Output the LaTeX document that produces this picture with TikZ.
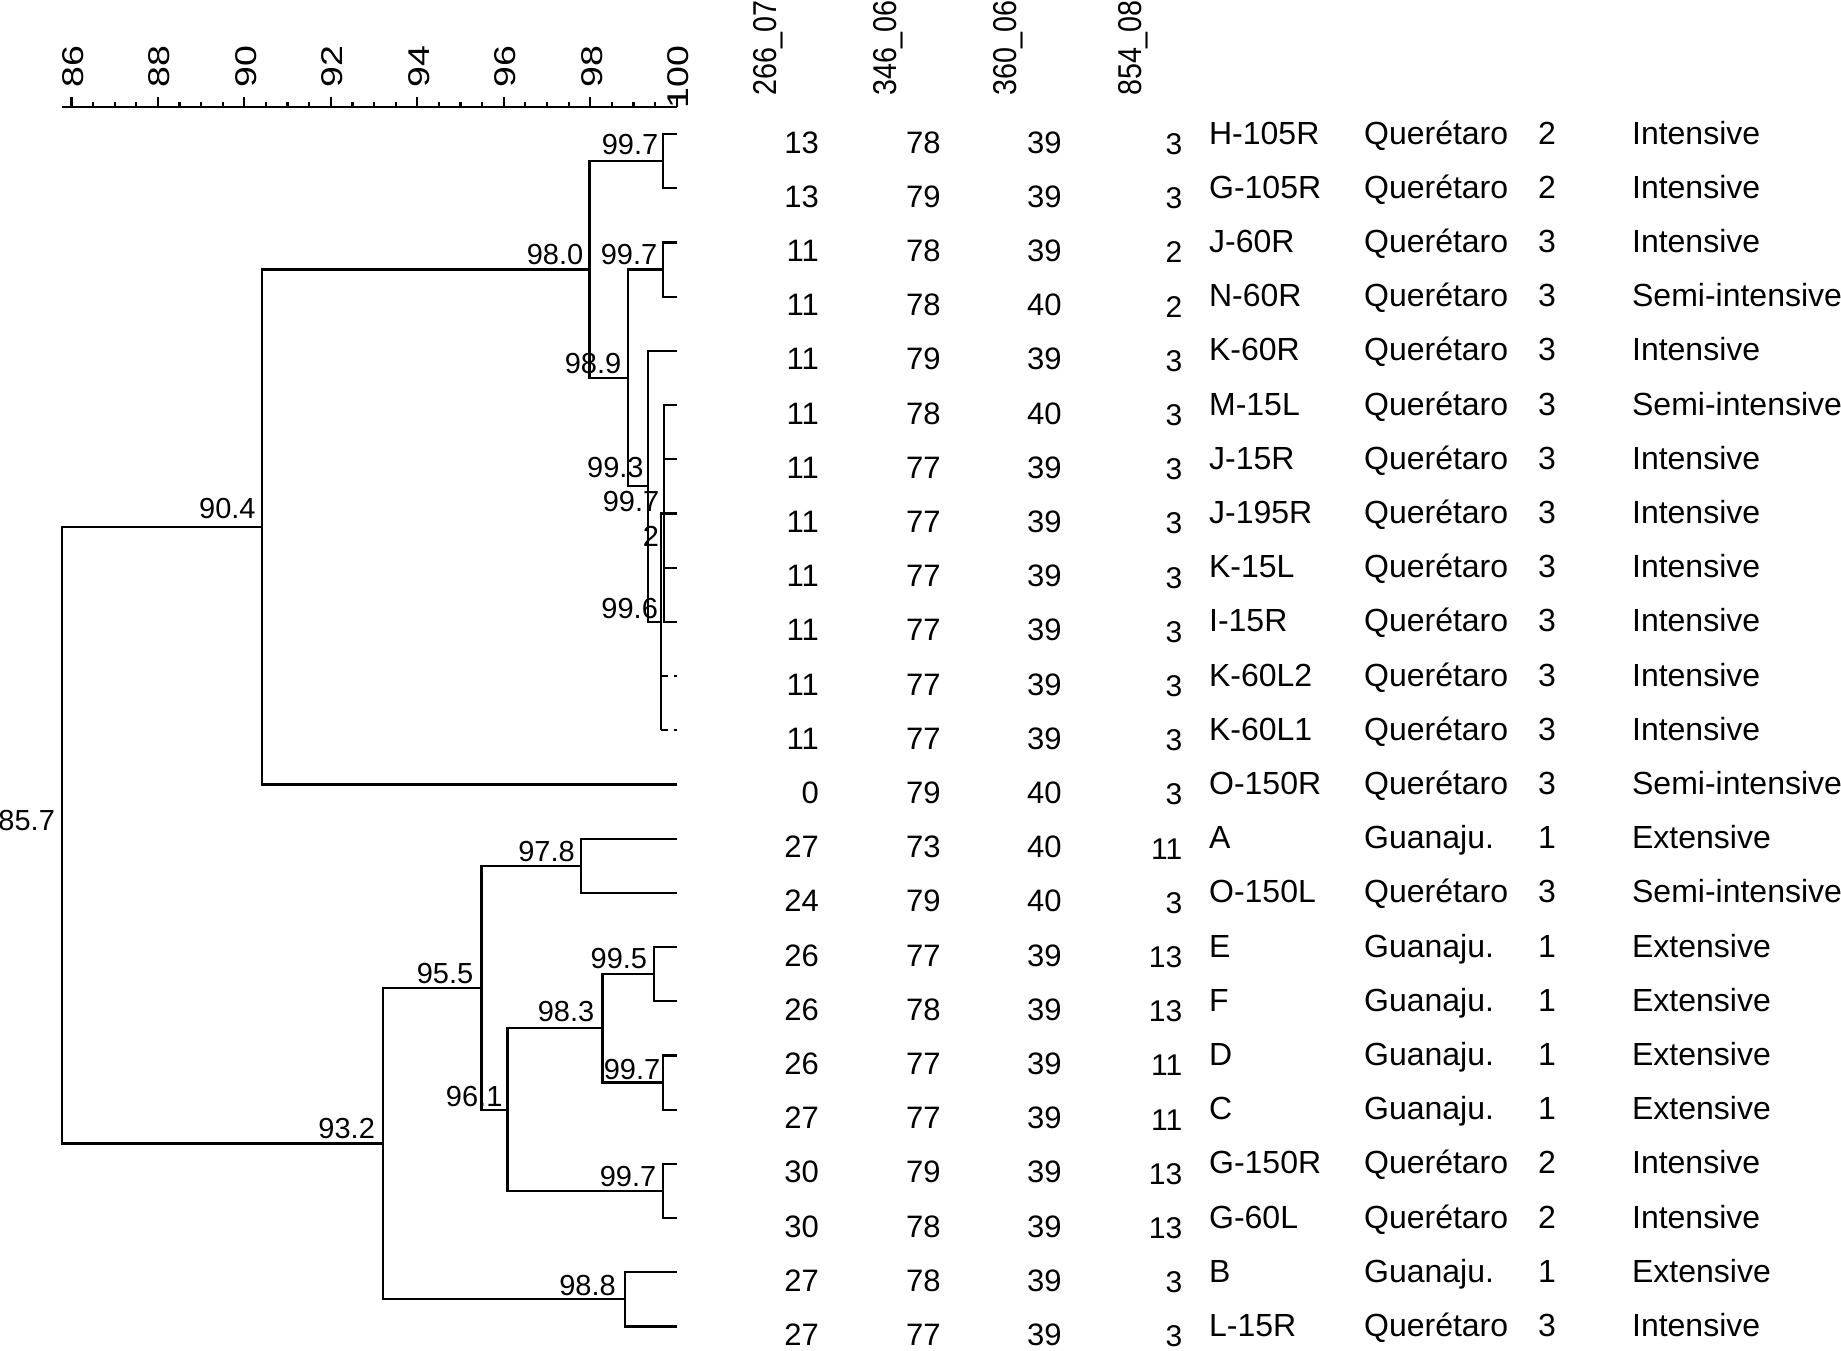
\documentclass[tikz,border=0pt]{standalone}
\usepackage{fontspec}
\setmainfont{Liberation Sans}
\usepackage{graphicx}
\usepackage{tikz}
\usetikzlibrary{calc}

\begin{document}
\begin{tikzpicture}[x=0.5pt, y=-0.5pt, line width=1.1pt,
    lbl/.style={anchor=south east, inner sep=0pt, font=\fontsize{14.5}{17}\selectfont},
    axlbl/.style={rotate=90, anchor=base east, inner sep=0pt, font=\fontsize{15}{18}\selectfont},
    hdr/.style={rotate=90, anchor=base west, inner sep=0pt, font=\fontsize{16.5}{19}\selectfont},
    datr/.style={anchor=base east, inner sep=0pt, font=\fontsize{15.5}{18}\selectfont},
    datl/.style={anchor=base west, inner sep=0pt, font=\fontsize{16}{19}\selectfont},
    leafdash/.style={dash pattern=on 3.5pt off 3pt on 1.5pt off 3pt}]

    \useasboundingbox (0,0) rectangle (1841,1350);

    % similarity scale
    \coordinate (a0) at (62,106.7);
    \coordinate (a1) at (676.7,106.7);
    \draw (a0) -- (a1);
    \foreach \k in {0,...,28} {
        \pgfmathsetmacro\tx{71.4+\k*21.618}
        \draw (\tx,106.7) -- (\tx,101.7);
    }
    \foreach \v in {86,88,...,100} {
        \pgfmathsetmacro\tx{71.4+(\v-86)*43.236}
        \draw (\tx,106.7) -- (\tx,96.7);
        \node[axlbl] (ax\v) at ({\tx+12},45) {\scalebox{1.25}[1]{\v}};
    }

    % column heads
    \node[hdr] (h1) at (776,97) {\scalebox{0.87}[1]{266\_07}};
    \node[hdr] (h2) at (896.7,97) {\scalebox{0.87}[1]{346\_06}};
    \node[hdr] (h3) at (1016.7,97) {\scalebox{0.87}[1]{360\_06}};
    \node[hdr] (h4) at (1141.7,97) {\scalebox{0.87}[1]{854\_08}};

    % leaves
    \foreach \i in {1,...,23}
        \coordinate (l\i) at (676.7,{134+(\i-1)*54.2});

    % clusters
    \coordinate (n1) at (663.3,161.1);
    \coordinate (n2) at (663.3,269.5);
    \coordinate (n3) at (664.3,513.4);
    \coordinate (n4) at (661,621.8);
    \coordinate (n5) at (647.7,486.3);
    \coordinate (n6) at (628.3,377.9);
    \coordinate (n7) at (589.4,269.5);
    \coordinate (n8) at (261.7,527);
    \coordinate (n9) at (580.8,865.7);
    \coordinate (n10) at (654.2,974.1);
    \coordinate (n11) at (663.3,1082.5);
    \coordinate (n12) at (602.4,1028.3);
    \coordinate (n13) at (663.3,1190.9);
    \coordinate (n14) at (507.5,1109.6);
    \coordinate (n15) at (481.4,987.7);
    \coordinate (n16) at (624.8,1299.3);
    \coordinate (n17) at (383,1143.5);
    \coordinate (n0) at (62,835.3);

    \draw (l1) -| (n1) |- (l2);
    \draw (l3) -| (n2) |- (l4);
    \draw (l6) -| (n3) |- (l10);
    \foreach \i in {7,8,9}
        \draw (l\i) -- (l\i -| n3);
    \draw (n3) -| (n4) -- (n4 |- l12);
    \draw[leafdash] (n4 |- l11) -- (l11);
    \draw[leafdash] (n4 |- l12) -- (l12);
    \draw (l5) -| (n5) |- (n4);
    \draw (n2) -| (n6) |- (n5);
    \draw (n1) -| (n7) |- (n6);
    \draw (n7) -| (n8) |- (l13);

    \draw (l14) -| (n9) |- (l15);
    \draw (l16) -| (n10) |- (l17);
    \draw (l18) -| (n11) |- (l19);
    \draw (n10) -| (n12) |- (n11);
    \draw (l20) -| (n13) |- (l21);
    \draw (n12) -| (n14) |- (n13);
    \draw (n9) -| (n15) |- (n14);
    \draw (l22) -| (n16) |- (l23);
    \draw (n15) -| (n17) |- (n16);

    \draw (n8) -| (n0) |- (n17);

    % similarity values
    \node[lbl] (t1) at ($(n1)+(-4,-5)$) {99.7};
    \node[lbl] (t2) at ($(n2)+(-5,-4)$) {99.7};
    \node[lbl] (t3) at ($(n3)+(-4,-1)$) {99.7};
    \node[lbl] (t4) at ($(n4)+(-2,-2)$) {99.6};
    \node[lbl] (t5) at ($(n5)+(-3,-7)$) {99.3};
    \node[lbl] (t6) at ($(n6)+(-6,-3)$) {98.9};
    \node[lbl] (t7) at ($(n7)+(-5,-4)$) {98.0};
    \node[lbl] (t8) at ($(n8)+(-5,-7)$) {90.4};
    \node[lbl] (tx) at (660,548) {2};
    \node[lbl] (t9) at ($(n9)+(-5,-3)$) {97.8};
    \node[lbl] (t10) at ($(n10)+(-6,-4)$) {99.5};
    \node[lbl] (t11) at ($(n11)+(-2,-2)$) {99.7};
    \node[lbl] (t12) at ($(n12)+(-7,-5)$) {98.3};
    \node[lbl] (t13) at ($(n13)+(-6,-3)$) {99.7};
    \node[lbl] (t14) at ($(n14)+(-4,-2)$) {96.1};
    \node[lbl] (t15) at ($(n15)+(-7,-3)$) {95.5};
    \node[lbl] (t16) at ($(n16)+(-8,-2)$) {98.8};
    \node[lbl] (t17) at ($(n17)+(-7,-4)$) {93.2};
    \node[lbl] (t0) at ($(n0)+(-6,-3.6)$) {85.7};

    % isolates
    \foreach \a/\b/\c/\d/\nm/\pl/\k/\ty [count=\i] in {
        13/78/39/3/H-105R/Querétaro/2/Intensive,
        13/79/39/3/G-105R/Querétaro/2/Intensive,
        11/78/39/2/J-60R/Querétaro/3/Intensive,
        11/78/40/2/N-60R/Querétaro/3/Semi-intensive,
        11/79/39/3/K-60R/Querétaro/3/Intensive,
        11/78/40/3/M-15L/Querétaro/3/Semi-intensive,
        11/77/39/3/J-15R/Querétaro/3/Intensive,
        11/77/39/3/J-195R/Querétaro/3/Intensive,
        11/77/39/3/K-15L/Querétaro/3/Intensive,
        11/77/39/3/I-15R/Querétaro/3/Intensive,
        11/77/39/3/K-60L2/Querétaro/3/Intensive,
        11/77/39/3/K-60L1/Querétaro/3/Intensive,
        0/79/40/3/O-150R/Querétaro/3/Semi-intensive,
        27/73/40/11/A/Guanaju./1/Extensive,
        24/79/40/3/O-150L/Querétaro/3/Semi-intensive,
        26/77/39/13/E/Guanaju./1/Extensive,
        26/78/39/13/F/Guanaju./1/Extensive,
        26/77/39/11/D/Guanaju./1/Extensive,
        27/77/39/11/C/Guanaju./1/Extensive,
        30/79/39/13/G-150R/Querétaro/2/Intensive,
        30/78/39/13/G-60L/Querétaro/2/Intensive,
        27/78/39/3/B/Guanaju./1/Extensive,
        27/77/39/3/L-15R/Querétaro/3/Intensive} {
        \pgfmathsetmacro\y{134+(\i-1)*54.2}
        \node[datr] (p\i) at (820,{\y+19}) {\a};
        \node[datr] (q\i) at (941.7,{\y+19}) {\b};
        \node[datr] (r\i) at (1062.7,{\y+19}) {\c};
        \node[datr, font=\fontsize{15}{18}\selectfont] (s\i) at (1183.3,{\y+20.5}) {\d};
        \node[datl] (id\i) at (1208,{\y+10}) {\nm};
        \node[datl] (pl\i) at (1363,{\y+10}) {\pl};
        \node[datl] (k\i) at (1537,{\y+10}) {\k};
        \node[datl] (ty\i) at (1631,{\y+10}) {\ty};
    }
\end{tikzpicture}
\end{document}
